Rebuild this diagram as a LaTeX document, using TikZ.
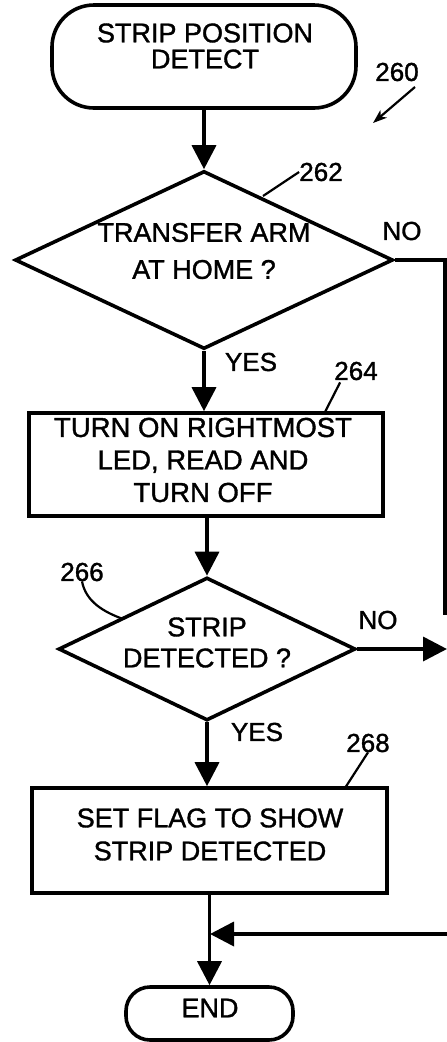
\documentclass[tikz,border=0pt]{standalone}
\usepackage{fontspec}
\setmainfont{Liberation Sans}
\newfontfamily\thk{Liberation Sans}[FakeBold=1.3]
\usetikzlibrary{arrows.meta,shapes.geometric}
\begin{document}
\begin{tikzpicture}[x=1pt,y=-1pt,
  flow/.style={line width=3.6pt},
  arr/.style={flow,-{Triangle[length=24pt,width=24pt]}},
  lead/.style={line width=2.2pt},
  txt/.style={align=center,inner sep=0pt},
  lbl/.style={font=\thk\fontsize{26}{32}\selectfont,inner sep=0pt},
  term/.style={draw,line width=3.6pt,rectangle,inner sep=0pt},
  dec/.style={draw,diamond,line width=3.6pt,inner sep=0pt},
  proc/.style={draw,rectangle,line width=3.6pt,inner sep=0pt}]
\useasboundingbox (0,0) rectangle (447,1042);
% shapes
\node[term,rounded corners=42pt,minimum width=304pt,minimum height=103pt] (start) at (204,56.5) {};
\node[dec,minimum width=378pt,minimum height=178pt] (d1) at (204,260) {};
\node[proc,minimum width=354pt,minimum height=103pt] (b1) at (206,464.5) {};
\node[dec,minimum width=297pt,minimum height=143pt] (d2) at (207,649) {};
\node[proc,minimum width=355pt,minimum height=105pt] (b2) at (209.5,840.5) {};
\node[term,rounded corners=24pt,minimum width=167pt,minimum height=53pt] (end) at (209.5,1013.5) {};
% texts
\node[txt,font=\thk\fontsize{27}{26}\selectfont] (tstart) at (205,46) {STRIP POSITION\\DETECT};
\node[txt,font=\thk\fontsize{27}{37}\selectfont] (td1) at (204,251) {TRANSFER ARM\\AT HOME ?};
\node[txt,font=\thk\fontsize{27.5}{32.5}\selectfont] (tb1) at (203,460) {TURN ON RIGHTMOST\\LED, READ AND\\TURN OFF};
\node[txt,font=\thk\fontsize{27}{31}\selectfont] (td2) at (207,642.5) {STRIP\\DETECTED ?};
\node[txt,font=\thk\fontsize{27}{33}\selectfont] (tb2) at (210,834.5) {SET FLAG TO SHOW\\STRIP DETECTED};
\node[txt,font=\thk\fontsize{27}{32}\selectfont] (tend) at (210,1008) {END};
% labels
\node[lbl] (l260) at (397,72) {260};
\node[lbl] (l262) at (321,172) {262};
\node[lbl] (l264) at (356,371) {264};
\node[lbl] (l266) at (82,572) {266};
\node[lbl] (l268) at (368,743) {268};
\node[lbl] (yes1) at (251,362) {YES};
\node[lbl] (yes2) at (257,732) {YES};
\node[lbl] (no1) at (402,231) {NO};
\node[lbl] (no2) at (378,620) {NO};
% coordinates
\coordinate (c1) at (445,260);
\coordinate (c2) at (445,615);
\coordinate (n2) at (447,649);
\coordinate (r1) at (447,934);
\coordinate (j) at (210,934);
\coordinate (p262) at (263,196);
\coordinate (p264) at (325,412);
\coordinate (p266) at (123,619);
\coordinate (p268) at (345,788);
\coordinate (a260s) at (415,87);
\coordinate (a260e) at (373,123);
% flow connectors
\draw[arr] (start.south -| d1.north) -- (d1.north);
\draw[arr] (d1.south) -- (d1.south |- b1.north);
\draw[arr] (b1.south -| d2.north) -- (d2.north);
\draw[arr] (d2.south) -- (d2.south |- b2.north);
\draw[arr] (b2.south -| end.north) -- (end.north);
\draw[flow] (d1.east) -- (c1) -- (c2);
\draw[arr] (d2.east) -- (n2);
\draw[arr] (r1) -- (j);
% leaders
\draw[lead] (l262.west) -- (p262);
\draw[lead] (l264.south west) ++(6,2) -- (p264);
\draw[lead] (l268.south) -- (p268);
\draw[lead] (l266.south) .. controls (86,602) and (104,612) .. (p266);
\draw[lead,-{Stealth[length=14pt,width=10pt,inset=4pt]}] (a260s) -- (a260e);
\end{tikzpicture}
\end{document}
